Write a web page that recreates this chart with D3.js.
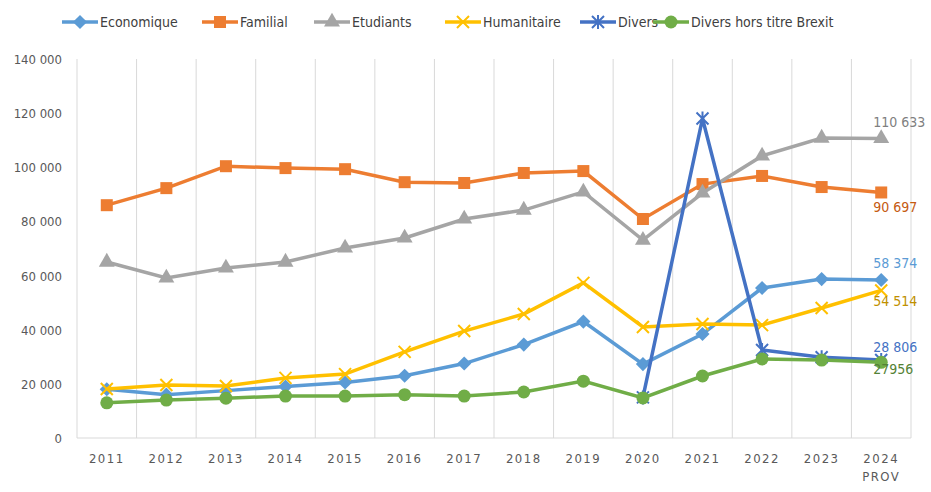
<!DOCTYPE html>
<html><head><meta charset="utf-8">
<script src="https://cdn.jsdelivr.net/npm/d3@7"></script>
<style>body{margin:0;background:#fff}text{font-family:"DejaVu Sans Condensed","Liberation Sans",sans-serif}</style>
</head><body><svg id="c" width="931" height="492"></svg>
<script>
const years = ["2011","2012","2013","2014","2015","2016","2017","2018","2019","2020","2021","2022","2023","2024"]
const economique = [18000,16000,17500,19000,20500,23000,27500,34500,43000,27300,38400,55400,58700,58374]
const familial = [86000,92300,100400,99700,99300,94500,94200,97900,98600,80900,93800,96800,92700,90697]
const etudiants = [65000,59100,62800,65000,70200,73900,80900,84200,90900,73100,90500,104200,110800,110633]
const humanitaire = [18100,19600,19200,22200,23600,31800,39500,45800,57300,41000,42100,41700,48000,54514]
const divers = [null,null,null,null,null,null,null,null,null,15000,118000,32500,29800,28806]
const horsBrexit = [13000,14000,14700,15500,15500,16000,15500,17000,21000,14800,22900,29200,28800,27956]
const yTicks = [0,20000,40000,60000,80000,100000,120000,140000]

const series = [
  {name:"Economique", v:economique, c:"#5b9bd5", m:"diamond", lab:"58 374", dy:-12, lx:62},
  {name:"Familial", v:familial, c:"#ed7d31", m:"square", lab:"90 697", dy:20, lx:202},
  {name:"Etudiants", v:etudiants, c:"#a5a5a5", m:"triangle", lab:"110 633", dy:-12, lx:314},
  {name:"Humanitaire", v:humanitaire, c:"#ffc000", m:"x", lab:"54 514", dy:16, lx:445},
  {name:"Divers", v:divers, c:"#4472c4", m:"star", lab:"28 806", dy:-8, lx:580},
  {name:"Divers hors titre Brexit", v:horsBrexit, c:"#70ad47", m:"circle", lab:"27956", dy:12, lx:653}
]
const labColors = {"Economique":"#5b9bd5","Familial":"#c55a11","Etudiants":"#7f7f7f","Humanitaire":"#bf9000","Divers":"#4472c4","Divers hors titre Brexit":"#548235"}

const svg = d3.select("#c")
const x = d3.scaleBand().domain(years).range([77,911])
const y = d3.scaleLinear().domain([0,140000]).range([438,59])
const fmt = d => d3.format(",")(d).replace(/,/g," ")

svg.append("g").selectAll("line").data(years.concat(["end"])).join("line")
  .attr("x1",d=>d==="end"?911:x(d)).attr("x2",d=>d==="end"?911:x(d))
  .attr("y1",59).attr("y2",438).attr("stroke","#d9d9d9")
svg.append("line").attr("x1",77).attr("x2",911).attr("y1",438).attr("y2",438).attr("stroke","#d9d9d9")

svg.append("g").selectAll("text").data(yTicks).join("text")
  .attr("x",62).attr("y",d=>y(d)+5).attr("text-anchor","end")
  .attr("font-size",13).attr("fill","#595959").text(fmt)
svg.append("g").selectAll("text").data(years).join("text")
  .attr("x",d=>x(d)+x.bandwidth()/2).attr("y",463).attr("text-anchor","middle")
  .attr("font-size",13).attr("letter-spacing",1.5).attr("fill","#595959").text(d=>d)
svg.append("text").attr("x",x("2024")+x.bandwidth()/2).attr("y",481).attr("text-anchor","middle")
  .attr("font-size",13).attr("letter-spacing",1.5).attr("fill","#595959").text("PROV")

const cx = d => x(d)+x.bandwidth()/2
function marker(g,type,c,px,py){
  if(type==="square") g.append("rect").attr("x",px-6).attr("y",py-6).attr("width",12).attr("height",12).attr("fill",c)
  else if(type==="diamond") g.append("rect").attr("x",px-5).attr("y",py-5).attr("width",10).attr("height",10).attr("fill",c).attr("transform",`rotate(45,${px},${py})`)
  else if(type==="triangle") g.append("path").attr("d",d3.symbol(d3.symbolTriangle,110)()).attr("transform",`translate(${px},${py})`).attr("fill",c)
  else if(type==="circle") g.append("circle").attr("cx",px).attr("cy",py).attr("r",6.5).attr("fill",c)
  else if(type==="x") g.append("path").attr("d",`M${px-6},${py-6}L${px+6},${py+6}M${px-6},${py+6}L${px+6},${py-6}`).attr("stroke",c).attr("stroke-width",2)
  else g.append("path").attr("d",`M${px-6},${py-6}L${px+6},${py+6}M${px-6},${py+6}L${px+6},${py-6}M${px},${py-7}L${px},${py+7}`).attr("stroke",c).attr("stroke-width",2)
}

const line = d3.line().defined(d=>d[1]!=null).x(d=>cx(d[0])).y(d=>y(d[1]))
series.forEach(s=>{
  const pts = years.map((yr,i)=>[yr,s.v[i]])
  const g = svg.append("g")
  g.append("path").attr("d",line(pts)).attr("fill","none").attr("stroke",s.c).attr("stroke-width",3.5)
  pts.filter(p=>p[1]!=null).forEach(p=>marker(g,s.m,s.c,cx(p[0]),y(p[1])))
  const last = s.v[s.v.length-1]
  svg.append("text").attr("x",cx("2024")-8).attr("y",y(last)+s.dy)
    .attr("font-size",14).attr("fill",labColors[s.name]).text(s.lab)
})

// legend
series.forEach(s=>{
  const g = svg.append("g")
  g.append("line").attr("x1",s.lx).attr("x2",s.lx+36).attr("y1",22).attr("y2",22).attr("stroke",s.c).attr("stroke-width",3.5)
  marker(g,s.m,s.c,s.lx+18,22)
  g.append("text").attr("x",s.lx+38).attr("y",27).attr("font-size",14).attr("fill","#404040").text(s.name)
})
</script></body></html>
